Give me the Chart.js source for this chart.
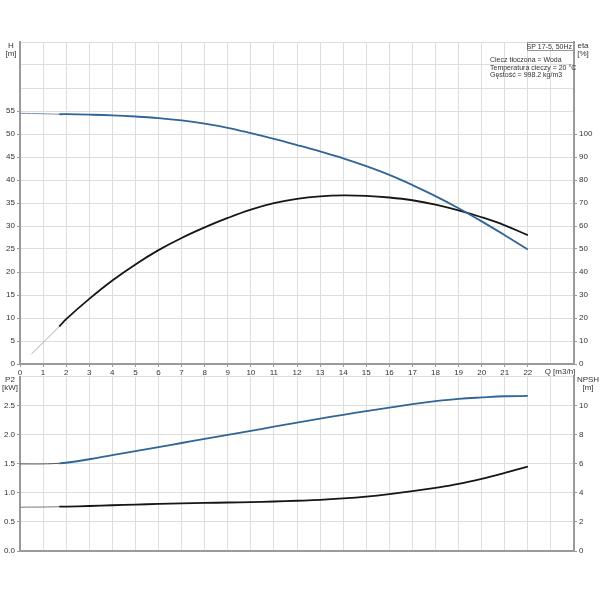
<!DOCTYPE html>
<html>
<head>
<meta charset="utf-8">
<script src="https://cdn.jsdelivr.net/npm/chart.js@4.4.1/dist/chart.umd.min.js"></script>
<style>
  body { margin: 0; background: #fff; }
  #wrap { position: relative; width: 600px; height: 600px; }
  canvas { position: absolute; left: 0; }
  #top-chart { top: 0; }
  #bottom-chart { top: 370px; }
</style>
</head>
<body>
<div id="wrap">
  <canvas id="top-chart" width="600" height="380"></canvas>
  <canvas id="bottom-chart" width="600" height="230"></canvas>
</div>
<script>
// flow rate Q [m3/h]
const qPoints = [0, 1, 1.7, 2, 3, 4, 5, 6, 7, 8, 9, 10, 11, 12, 13, 14, 15, 16, 17, 18, 19, 20, 21, 22];
const headValues = [54.5, 54.4, 54.3, 54.3, 54.2, 54.05, 53.8, 53.45, 52.95, 52.25, 51.35, 50.2, 48.95, 47.6, 46.2, 44.7, 43.0, 41.1, 38.9, 36.5, 33.85, 31.0, 28.0, 24.9];
const p2Values = [1.50, 1.50, 1.51, 1.52, 1.58, 1.65, 1.72, 1.79, 1.86, 1.93, 2.00, 2.07, 2.14, 2.21, 2.28, 2.345, 2.41, 2.47, 2.53, 2.58, 2.62, 2.645, 2.665, 2.67];
const npshValues = [3.02, 3.03, 3.05, 3.06, 3.10, 3.15, 3.20, 3.24, 3.28, 3.31, 3.34, 3.37, 3.41, 3.46, 3.52, 3.62, 3.75, 3.92, 4.12, 4.35, 4.62, 4.97, 5.38, 5.82];

const etaQ = [0.5, 1.7, 2, 3, 4, 5, 6, 7, 8, 9, 10, 11, 12, 13, 14, 15, 16, 17, 18, 19, 20, 21, 22];
const etaValues = [4.4, 16.3, 19.5, 28.3, 36.3, 43.3, 49.5, 54.8, 59.4, 63.5, 67.1, 69.9, 71.8, 72.9, 73.3, 73.1, 72.4, 71.2, 69.3, 66.8, 63.8, 60.3, 56.0];

const qTickMax = 22;
const infoLines = ['Ciecz tłoczona = Woda', 'Temperatura cieczy = 20 °C', 'Gęstość = 998.2 kg/m3'];

const FONT = 'Liberation Sans, Arial, sans-serif';
const BLUE = '#2f6597';
const BLACK = '#161616';
const GRID = '#dedede';
const AXIS = '#9a9a9a';
const START_Q = 1.7;

Chart.defaults.font.family = FONT;
Chart.defaults.font.size = 8;
Chart.defaults.color = '#333';

const toPoints = (xs, ys) => xs.map((x, i) => ({ x: x, y: ys[i] }));

function curve(label, xs, ys, color, thinColor, axis) {
    return {
        label: label,
        data: toPoints(xs, ys),
        yAxisID: axis,
        borderColor: color,
        borderWidth: 1.8,
        pointRadius: 0,
        tension: 0.4,
        segment: {
            borderColor: ctx => ctx.p1.parsed.x <= START_Q ? thinColor : color,
            borderWidth: ctx => ctx.p1.parsed.x <= START_Q ? 1 : 1.8
        }
    };
}

function xScale(showLabels, height) {
    return {
        type: 'linear',
        min: 0,
        max: 24,
        afterBuildTicks: s => { s.ticks = []; for (let i = 0; i <= 24; i++) s.ticks.push({ value: i }); },
        afterFit: s => { s.height = height; },
        grid: {
            color: GRID,
            tickColor: ctx => ctx.tick && ctx.tick.value <= qTickMax ? AXIS : 'rgba(0,0,0,0)',
            tickLength: 3,
            drawTicks: showLabels
        },
        border: { color: AXIS, width: 2 },
        ticks: {
            display: showLabels,
            autoSkip: false,
            maxRotation: 0,
            padding: 1,
            callback: v => v <= qTickMax ? v : ''
        }
    };
}

function yScale(pos, max, step, labelMax, width, onArea, fmt) {
    return {
        type: 'linear',
        position: pos,
        min: 0,
        max: max,
        afterFit: s => { s.width = width; },
        grid: {
            color: GRID,
            drawOnChartArea: onArea,
            tickColor: ctx => ctx.tick && ctx.tick.value <= labelMax + 1e-9 ? AXIS : 'rgba(0,0,0,0)',
            tickLength: 3
        },
        border: { color: AXIS, width: 2 },
        ticks: {
            stepSize: step,
            padding: 2,
            callback: v => v <= labelMax + 1e-9 ? (fmt ? fmt(v) : v) : ''
        }
    };
}

function textPlugin(draw) {
    return {
        id: 'labels',
        afterDraw(chart) {
            const c = chart.ctx;
            c.save();
            c.fillStyle = '#333';
            c.font = '8px ' + FONT;
            draw(c, chart);
            c.restore();
        }
    };
}

const topChart = new Chart(document.getElementById('top-chart'), {
    type: 'line',
    data: {
        datasets: [
            curve('H', qPoints, headValues, BLUE, '#7f93a8', 'yH'),
            curve('eta', etaQ, etaValues, BLACK, '#a8a8a8', 'yEta')
        ]
    },
    options: {
        responsive: false,
        animation: false,
        layout: { padding: { top: 42 } },
        plugins: { legend: { display: false }, tooltip: { enabled: false } },
        scales: {
            x: xScale(true, 16),
            yH: yScale('left', 70, 5, 55, 20, true),
            yEta: yScale('right', 140, 10, 100, 26, false)
        }
    },
    plugins: [textPlugin((c, chart) => {
        const a = chart.chartArea;
        c.textAlign = 'center';
        c.fillText('H', 11, 48);
        c.fillText('[m]', 11, 56);
        c.fillText('eta', 583, 48);
        c.fillText('[%]', 583, 56);
        c.textBaseline = 'top';
        c.fillText('Q [m3/h]', 560, a.bottom + 4);
        c.textBaseline = 'alphabetic';
        // info box
        c.fillStyle = '#fff';
        c.fillRect(a.right - 47, a.top, 47, 9);
        c.strokeStyle = '#999';
        c.lineWidth = 1;
        c.strokeRect(a.right - 46.5, a.top + 0.5, 46, 8);
        c.fillStyle = '#333';
        c.font = '7px ' + FONT;
        c.textAlign = 'right';
        c.fillText('SP 17-5, 50Hz', a.right - 2, a.top + 7);
        c.textAlign = 'left';
        infoLines.forEach((t, i) => c.fillText(t, 490, 62 + i * 7.5));
    })]
});

const bottomChart = new Chart(document.getElementById('bottom-chart'), {
    type: 'line',
    data: {
        datasets: [
            curve('P2', qPoints, p2Values, BLUE, '#555', 'yP2'),
            curve('NPSH', qPoints, npshValues, BLACK, '#777', 'yNpsh')
        ]
    },
    options: {
        responsive: false,
        animation: false,
        layout: { padding: { top: 5.5 } },
        plugins: { legend: { display: false }, tooltip: { enabled: false } },
        scales: {
            x: xScale(false, 49),
            yP2: yScale('left', 3, 0.5, 2.5, 20, true, v => v.toFixed(1)),
            yNpsh: yScale('right', 12, 2, 10, 26, false)
        }
    },
    plugins: [textPlugin(c => {
        c.textAlign = 'center';
        c.fillText('P2', 10, 12);
        c.fillText('[kW]', 10, 20);
        c.fillText('NPSH', 588, 12);
        c.fillText('[m]', 588, 20);
    })]
});
</script>
</body>
</html>
